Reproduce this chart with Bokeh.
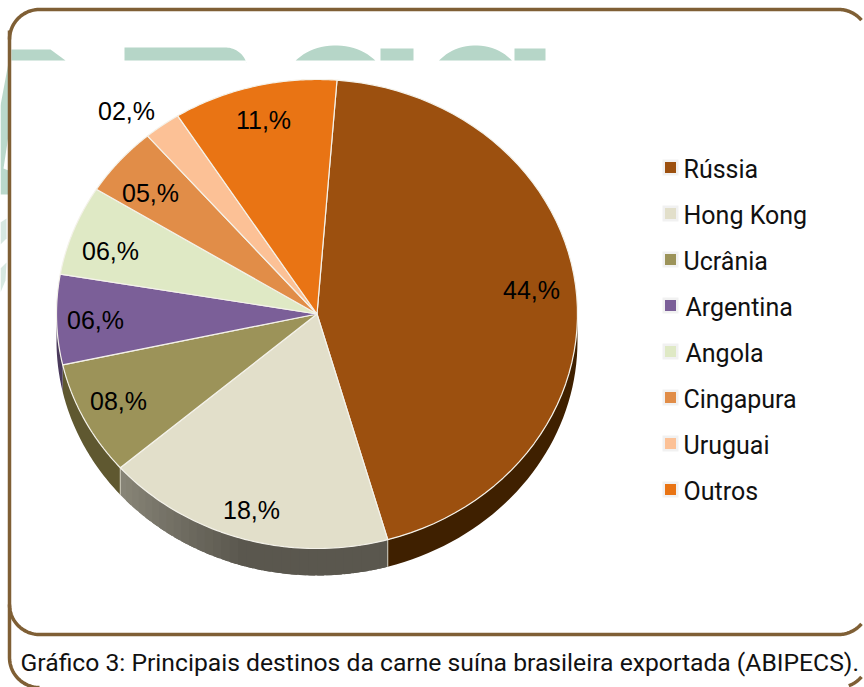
import numpy as np
from bokeh.plotting import figure
from bokeh.embed import file_html
from bokeh.resources import INLINE
from bokeh.core.properties import value

categories = ["Rússia", "Hong Kong", "Ucrânia", "Argentina", "Angola", "Cingapura", "Uruguai", "Outros"]
shares = [44.4, 18.0, 7.9, 6.2, 6.2, 4.8, 2.3, 10.2]
share_labels = ["44,%", "18,%", "08,%", "06,%", "06,%", "05,%", "02,%", "11,%"]
colors = ["#9c500f", "#e2dfca", "#9c9359", "#7b5f98", "#dfe9c5", "#e18d48", "#fcc196", "#e97414"]
side_colors = ["#3f2000", "#5a574e", "#5f5830", "#4a3a5c", "#8a8d76", "#8a562c", "#98755a", "#8c4600"]
caption = "Gráfico 3: Principais destinos da carne suína brasileira exportada (ABIPECS)."

# layout (page pixels)
W, H = 864, 687
CX, CY, RX, RY, DEPTH = 316.5, 313.5, 260.5, 234.5, 27
START = 4.4
FRAME = "#7f5f35"
WM = "#b6d6c8"
label_x = [531, 251, 118, 95, 110, 150, 126, 263]
label_y = [289, 509, 400, 319, 250, 192, 110, 119]
legend_x = [683, 683, 683, 685, 685, 683, 683, 683]
legend_y = [169, 215, 261, 307, 353, 399, 445, 491]
SANS = "Liberation Sans"
LEG = "Roboto"

p = figure(width=W, height=H, x_range=(0, W), y_range=(H, 0), toolbar_location=None,
           output_backend="svg", min_border=0, outline_line_color=None,
           background_fill_color="white", border_fill_color=None)
p.axis.visible = False
p.grid.visible = False
p.styles = {"position": "absolute", "left": "0px", "top": "0px"}


def pt(deg):
    a = np.radians(deg)
    return CX + RX * np.sin(a), CY - RY * np.cos(a)


def arc(x0, y0, rx, ry, a0, a1, n=24):
    t = np.radians(np.linspace(a0, a1, n))
    return list(x0 + rx * np.cos(t)), list(y0 + ry * np.sin(t))


# faint watermark behind the chart
p.patch([11, 50, 65, 65, 11], [49, 49, 60, 60, 60], fill_color=WM, line_color=None)
wx, wy = arc(225, 69, 22, 22, -90, -15)
p.patch([124, 124] + wx + [245], [60, 47] + wy + [60], fill_color=WM, line_color=None)
for cx0, r0, x1, x2 in [(335, 44, 380, 413), (475, 40, 514, 545)]:
    ax, ay = arc(cx0, 78, r0 + 3, 33, 180 + 32, 360 - 32)
    p.patch(ax, [min(v, 60) for v in ay], fill_color=WM, line_color=None)
    p.quad(left=[x1], right=[x2], top=[48], bottom=[60], fill_color=WM, line_color=None)
p.patch([0, 8, 8, 3, 8, 8, 0], [105, 62, 135, 168, 170, 194, 194], fill_color=WM, fill_alpha=0.95, line_color=None)
p.patch([0, 6, 6, 0], [222, 218, 238, 244], fill_color=WM, fill_alpha=0.55, line_color=None)
p.patch([0, 6, 5, 0], [268, 262, 280, 292], fill_color=WM, fill_alpha=0.55, line_color=None)

# extruded side of the pie, then the slices
edges = np.concatenate([[0], np.cumsum(shares)]) / sum(shares) * 360 + START
for i in range(len(shares)):
    a0, a1 = edges[i], edges[i + 1]
    lo, hi = max(a0, 90), min(a1, 270)
    if hi <= lo:
        continue
    if categories[i] == "Hong Kong":
        steps = list(np.linspace(lo, hi, int((hi - lo) / 2) + 2))
    else:
        steps = [lo, hi]
    # strips are painted from the far end so each overlaps the seam with the next one
    for s0, s1 in reversed(list(zip(steps[:-1], steps[1:]))):
        ang = np.linspace(max(lo, s0 - 1.5), s1, 40 if len(steps) == 2 else 4)
        xs, ys = pt(ang)
        col = side_colors[i]
        if categories[i] == "Hong Kong":
            f = np.clip((s0 - 195) / 35, 0, 1)
            c = np.array([0x5a, 0x57, 0x4e]) + f * np.array([50, 50, 45])
            col = "#%02x%02x%02x" % tuple(int(v) for v in c)
        p.patch(list(xs) + list(xs[::-1]), list(ys) + list(ys[::-1] + DEPTH),
                fill_color=col, line_color=None)
for e in edges[1:3]:
    ex, ey = pt(e)
    p.line([ex, ex], [ey, ey + DEPTH], line_color="#cfcdbf", line_width=1)

for i in range(len(shares)):
    ang = np.linspace(edges[i], edges[i + 1], 60)
    xs, ys = pt(ang)
    p.patch([CX] + list(xs), [CY] + list(ys), fill_color=colors[i],
            line_color="#f4f2ea", line_width=1.2)

# frame
col = FRAME
LW = 3.5
ax, ay = arc(39, 39, 30, 30, 180, 270)
bx, by = arc(838, 39, 30, 30, 270, 320)
p.line(ax + bx, ay + by, line_color=col, line_width=LW)
ax, ay = arc(39, 604, 30, 30, 180, 90)
bx, by = arc(838, 604, 30, 30, 90, 40)
p.line(ax + bx, ay + by, line_color=col, line_width=LW)
ax, ay = arc(39, 657, 30, 30, 180, 90)
p.line([9] + ax, [30] + ay, line_color=col, line_width=LW)
ax, ay = arc(838, 657, 30, 30, 70, 40)
p.line(ax, ay, line_color=col, line_width=LW)

# texts
p.text(label_x, label_y, text=share_labels, text_font=value(SANS), text_font_size="25px",
       text_align="center", text_baseline="middle", text_color="#000000")

p.scatter([670] * 8, [y - 2 for y in legend_y], marker="square", size=16, fill_color="#f1f1f1", line_color=None)
p.scatter([670] * 8, [y - 2 for y in legend_y], marker="square", size=11, fill_color=colors, line_color=None)
p.text(legend_x, legend_y, text=categories, text_font=value(LEG), text_font_size="25px",
       text_align="left", text_baseline="middle", text_color="#111111")
p.text([20], [662], text=[caption], text_font=value(LEG), text_font_size="24.7px",
       text_align="left", text_baseline="middle", text_color="#111111")

open("out.html", "w").write(file_html(p, INLINE))
